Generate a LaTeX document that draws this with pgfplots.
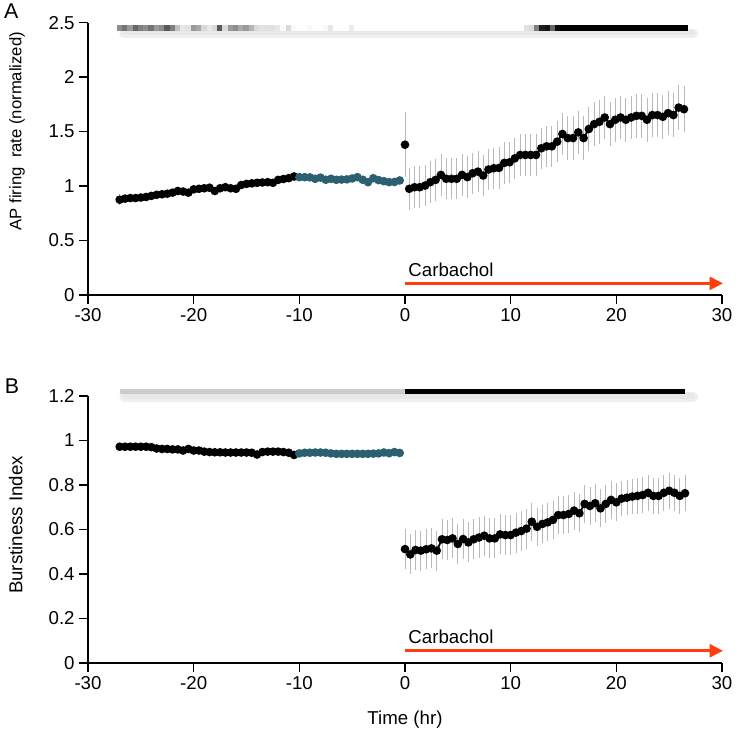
\documentclass[border=0pt]{standalone}
\usepackage{pgfplots}
\pgfplotsset{compat=1.18}
\usepackage{pgfplotstable}
\usepackage{fontspec}
\setmainfont{Liberation Sans}
\usetikzlibrary{arrows.meta}
\definecolor{tealdot}{RGB}{42,96,112}
\definecolor{carb}{RGB}{255,62,12}
\pgfplotsset{colormap={bw}{gray(0cm)=(0); gray(1cm)=(1)}}

% ---------- Panel A data ----------
\pgfplotstableread{
x y e
-27 0.875 0.05
-26.5 0.885 0.04
-26 0.89 0.03
-25.5 0.89 0.03
-25 0.895 0.03
-24.5 0.90 0.03
-24 0.91 0.03
-23.5 0.92 0.03
-23 0.925 0.03
-22.5 0.93 0.03
-22 0.94 0.03
-21.5 0.955 0.03
-21 0.95 0.03
-20.5 0.94 0.03
-20 0.97 0.03
-19.5 0.975 0.03
-19 0.98 0.03
-18.5 0.985 0.03
-18 0.955 0.03
-17.5 0.98 0.03
-17 0.99 0.03
-16.5 0.98 0.03
-16 0.975 0.03
-15.5 1.01 0.03
-15 1.02 0.03
-14.5 1.025 0.03
-14 1.03 0.03
-13.5 1.033 0.03
-13 1.036 0.03
-12.5 1.03 0.03
-12 1.057 0.03
-11.5 1.065 0.03
-11 1.073 0.03
-10.5 1.088 0.03
}\topblack

\pgfplotstableread{
x y e
-10 1.082 0.025
-9.5 1.082 0.025
-9 1.08 0.025
-8.5 1.067 0.025
-8 1.078 0.025
-7.5 1.058 0.025
-7 1.067 0.025
-6.5 1.058 0.025
-6 1.06 0.025
-5.5 1.062 0.025
-5 1.07 0.025
-4.5 1.082 0.025
-4 1.058 0.025
-3.5 1.036 0.025
-3 1.072 0.025
-2.5 1.055 0.025
-2 1.045 0.025
-1.5 1.036 0.025
-1 1.038 0.025
-0.5 1.052 0.025
}\topteal

\pgfplotstableread{
x y e
0 1.38 0.30
}\topzero

\pgfplotstableread{
x y e
0.4 0.975 0.19
0.9 0.99 0.19
1.4 0.99 0.19
1.9 1.005 0.19
2.4 1.036 0.19
2.9 1.057 0.19
3.4 1.103 0.19
3.9 1.067 0.19
4.4 1.067 0.19
4.9 1.067 0.19
5.4 1.103 0.19
5.9 1.082 0.19
6.4 1.118 0.19
6.9 1.133 0.19
7.4 1.097 0.19
7.9 1.152 0.19
8.4 1.164 0.19
8.9 1.167 0.19
9.4 1.213 0.19
9.9 1.219 0.19
10.4 1.255 0.19
10.9 1.286 0.19
11.4 1.286 0.19
11.9 1.286 0.19
12.4 1.286 0.19
12.9 1.347 0.19
13.4 1.365 0.19
13.9 1.365 0.19
14.4 1.408 0.19
14.9 1.478 0.19
15.4 1.441 0.20
15.9 1.441 0.20
16.4 1.493 0.20
16.9 1.441 0.20
17.4 1.524 0.20
17.9 1.569 0.20
18.4 1.59 0.20
18.9 1.63 0.20
19.4 1.569 0.20
19.9 1.609 0.20
20.4 1.63 0.20
20.9 1.609 0.20
21.4 1.63 0.20
21.9 1.645 0.20
22.4 1.645 0.20
22.9 1.609 0.20
23.4 1.652 0.20
23.9 1.652 0.20
24.4 1.636 0.20
24.9 1.67 0.20
25.4 1.652 0.20
25.9 1.721 0.21
26.4 1.706 0.21
}\toppost

% grey-level strip above panel A (0 = black, 1 = white)
\pgfplotstableread{
x y g
-27 2.455 0.55
-26.5 2.455 0.45
-26 2.455 0.6
-25.5 2.455 0.4
-25 2.455 0.5
-24.5 2.455 0.55
-24 2.455 0.45
-23.5 2.455 0.6
-23 2.455 0.55
-22.5 2.455 0.35
-22 2.455 0.5
-21.5 2.455 0.75
-21 2.455 0.9
-20.5 2.455 0.88
-20 2.455 0.6
-19.5 2.455 0.65
-19 2.455 0.85
-18.5 2.455 0.9
-18 2.455 0.85
-17.5 2.455 0.35
-17 2.455 0.85
-16.5 2.455 0.6
-16 2.455 0.55
-15.5 2.455 0.65
-15 2.455 0.6
-14.5 2.455 0.7
-14 2.455 0.85
-13.5 2.455 0.88
-13 2.455 0.88
-12.5 2.455 0.88
-12 2.455 0.9
-11.5 2.455 0.97
-11 2.455 0.85
-10.5 2.455 0.97
-10 2.455 1
-9.5 2.455 1
-9 2.455 0.97
-8.5 2.455 1
-8 2.455 1
-7.5 2.455 0.97
-7 2.455 0.9
-6.5 2.455 1
-6 2.455 1
-5.5 2.455 1
-5 2.455 0.92
-4.5 2.455 1
-4 2.455 1
-3.5 2.455 1
-3 2.455 1
-2.5 2.455 1
-2 2.455 1
-1.5 2.455 1
-1 2.455 1
-0.5 2.455 1
0 2.455 1
0.5 2.455 1
1 2.455 1
1.5 2.455 1
2 2.455 1
2.5 2.455 1
3 2.455 1
3.5 2.455 1
4 2.455 1
4.5 2.455 1
5 2.455 1
5.5 2.455 1
6 2.455 1
6.5 2.455 1
7 2.455 1
7.5 2.455 1
8 2.455 1
8.5 2.455 1
9 2.455 1
9.5 2.455 1
10 2.455 1
10.5 2.455 1
11 2.455 1
11.5 2.455 0.88
12 2.455 0.85
12.5 2.455 0.5
13 2.455 0.12
13.5 2.455 0.08
14 2.455 0.4
14.5 2.455 0.05
15 2.455 0
15.5 2.455 0
16 2.455 0
16.5 2.455 0
17 2.455 0
17.5 2.455 0
18 2.455 0
18.5 2.455 0
19 2.455 0
19.5 2.455 0
20 2.455 0
20.5 2.455 0
21 2.455 0
21.5 2.455 0
22 2.455 0
22.5 2.455 0
23 2.455 0
23.5 2.455 0
24 2.455 0
24.5 2.455 0
25 2.455 0
25.5 2.455 0
26 2.455 0
26.5 2.455 0
}\topband

% ---------- Panel B data ----------
\pgfplotstableread{
x y e
-27 0.972 0.01
-26.5 0.972 0.01
-26 0.972 0.01
-25.5 0.972 0.01
-25 0.972 0.01
-24.5 0.972 0.01
-24 0.970 0.01
-23.5 0.964 0.01
-23 0.962 0.01
-22.5 0.962 0.01
-22 0.960 0.01
-21.5 0.960 0.01
-21 0.955 0.01
-20.5 0.962 0.01
-20 0.955 0.01
-19.5 0.955 0.01
-19 0.950 0.01
-18.5 0.948 0.01
-18 0.947 0.01
-17.5 0.947 0.01
-17 0.946 0.01
-16.5 0.946 0.01
-16 0.946 0.01
-15.5 0.946 0.01
-15 0.946 0.01
-14.5 0.945 0.01
-14 0.937 0.01
-13.5 0.948 0.01
-13 0.950 0.01
-12.5 0.950 0.01
-12 0.950 0.01
-11.5 0.948 0.01
-11 0.945 0.01
-10.5 0.935 0.01
}\botblack

\pgfplotstableread{
x y e
-10 0.942 0.012
-9.5 0.945 0.012
-9 0.945 0.012
-8.5 0.946 0.012
-8 0.946 0.012
-7.5 0.945 0.012
-7 0.942 0.012
-6.5 0.940 0.012
-6 0.940 0.012
-5.5 0.940 0.012
-5 0.940 0.012
-4.5 0.940 0.012
-4 0.940 0.012
-3.5 0.940 0.012
-3 0.941 0.012
-2.5 0.942 0.012
-2 0.946 0.012
-1.5 0.943 0.012
-1 0.948 0.012
-0.5 0.944 0.012
}\botteal

\pgfplotstableread{
x y e
0 0.512 0.09
0.5 0.488 0.09
1 0.508 0.09
1.5 0.505 0.09
2 0.511 0.09
2.5 0.515 0.09
3 0.505 0.09
3.5 0.556 0.09
4 0.553 0.09
4.5 0.560 0.09
5 0.535 0.09
5.5 0.557 0.09
6 0.542 0.09
6.5 0.556 0.09
7 0.564 0.09
7.5 0.572 0.09
8 0.560 0.09
8.5 0.560 0.09
9 0.578 0.09
9.5 0.575 0.09
10 0.575 0.09
10.5 0.586 0.09
11 0.593 0.09
11.5 0.604 0.09
12 0.635 0.085
12.5 0.612 0.085
13 0.625 0.085
13.5 0.632 0.085
14 0.643 0.085
14.5 0.665 0.085
15 0.665 0.085
15.5 0.670 0.085
16 0.685 0.085
16.5 0.673 0.085
17 0.715 0.085
17.5 0.706 0.085
18 0.718 0.085
18.5 0.695 0.085
19 0.715 0.085
19.5 0.733 0.085
20 0.722 0.085
20.5 0.739 0.08
21 0.743 0.08
21.5 0.748 0.08
22 0.751 0.08
22.5 0.755 0.08
23 0.765 0.08
23.5 0.751 0.08
24 0.751 0.08
24.5 0.765 0.08
25 0.774 0.08
25.5 0.765 0.08
26 0.751 0.08
26.5 0.763 0.08
}\botpost

\pgfplotsset{
  panel/.style={
    scale only axis, width=475.5pt,
    xmin=-30, xmax=30, xtick={-30,-20,...,30},
    axis lines=left, axis line style={-, line width=1.1pt},
    tick align=outside, major tick length=6.5pt,
    tick style={line width=1.1pt, black},
    ticklabel style={font=\fontsize{14}{16}\selectfont},
    /pgf/number format/assume math mode=true,
    clip=false,
    point meta min=0, point meta max=1,
  },
  errs/.style={gray!55, mark=none, only marks,
    error bars/.cd, y dir=both, y explicit, error mark=none,
    error bar style={draw=gray!55, line width=0.6pt}},
  blk/.style={black, line width=1.4pt, mark=*, mark size=2.5pt, mark options={solid}},
  tl/.style={tealdot, line width=1.4pt, mark=*, mark size=2.5pt, mark options={solid}},
}

\begin{document}
\begin{tikzpicture}
\path[use as bounding box] (-66pt,-60pt) rectangle (487.5pt,497.25pt);

% ---------------- Panel A ----------------
\begin{axis}[panel, at={(0,276pt)}, anchor=south west, height=204.2pt,
  ymin=0, ymax=2.5, ytick={0,0.5,1,1.5,2,2.5},
  ylabel={AP firing\ \ rate (normalized)},
  ylabel style={at={(axis description cs:-0.112,0.602)}, anchor=center,
    font=\fontsize{12.5}{14}\selectfont},
]
% shadow and grey strip
\addplot[gray!30, line width=4pt, line cap=round, opacity=0.8] coordinates {(-26.6,2.412)(27.2,2.412)};
\addplot[gray!16, line width=7pt, line cap=round, opacity=0.8] coordinates {(-26.6,2.402)(27.3,2.402)};
\addplot[white, line width=4pt] coordinates {(-27.25,2.455)(26.75,2.455)};
\addplot[scatter, only marks, mark=square*, mark size=2.0pt,
  scatter/use mapped color={draw=mapped color, fill=mapped color},
  mark options={yscale=0.95, line width=0.5pt}, point meta=explicit, colormap name=bw]
  table[x=x, y=y, meta=g]{\topband};
% error bars
\addplot[errs] table[x=x, y=y, y error=e]{\topblack};
\addplot[errs] table[x=x, y=y, y error=e]{\topteal};
\addplot[errs] table[x=x, y=y, y error=e]{\topzero};
\addplot[errs] table[x=x, y=y, y error=e]{\toppost};
% data
\addplot[blk] table[x=x, y=y]{\topblack};
\addplot[tl] table[x=x, y=y]{\topteal};
\addplot[blk, only marks] table[x=x, y=y]{\topzero};
\addplot[blk] table[x=x, y=y]{\toppost};
% carbachol
\addplot[carb, line width=2.4pt, -{Triangle[length=10pt,width=9.5pt]}] coordinates {(0,0.107)(30.1,0.107)};
\node[anchor=west, font=\fontsize{14}{16}\selectfont, inner sep=0pt] at (axis cs:0.3,0.235) {Carbachol};
\end{axis}

% ---------------- Panel B ----------------
\begin{axis}[panel, at={(0,0)}, anchor=south west, height=200.25pt,
  ymin=0, ymax=1.2, ytick={0,0.2,0.4,0.6,0.8,1,1.2},
  ylabel={Burstiness Index},
  ylabel style={at={(axis description cs:-0.114,0.517)}, anchor=center,
    font=\fontsize{14}{16}\selectfont},
  xlabel={Time (hr)},
  xlabel style={at={(axis description cs:0.5,-0.2135)}, anchor=center,
    font=\fontsize{14}{16}\selectfont},
]
\addplot[gray!30, line width=4pt, line cap=round, opacity=0.8] coordinates {(-26.6,1.2)(27.2,1.2)};
\addplot[gray!16, line width=7pt, line cap=round, opacity=0.8] coordinates {(-26.6,1.196)(27.3,1.196)};
\addplot[black!20, line width=4pt] coordinates {(-27,1.22)(0,1.22)};
\addplot[black, line width=4pt] coordinates {(0,1.22)(26.5,1.22)};
% error bars
\addplot[errs] table[x=x, y=y, y error=e]{\botblack};
\addplot[errs] table[x=x, y=y, y error=e]{\botteal};
\addplot[errs] table[x=x, y=y, y error=e]{\botpost};
% data
\addplot[blk] table[x=x, y=y]{\botblack};
\addplot[tl] table[x=x, y=y]{\botteal};
\addplot[blk] table[x=x, y=y]{\botpost};
% carbachol
\addplot[carb, line width=2.4pt, -{Triangle[length=10pt,width=9.5pt]}] coordinates {(0,0.055)(30.1,0.055)};
\node[anchor=west, font=\fontsize{14}{16}\selectfont, inner sep=0pt] at (axis cs:0.3,0.118) {Carbachol};
\end{axis}

\node[font=\fontsize{16}{18}\selectfont] at (-57.5pt,489pt) {A};
\node[font=\fontsize{16}{18}\selectfont] at (-57pt,208pt) {B};
\end{tikzpicture}
\end{document}
